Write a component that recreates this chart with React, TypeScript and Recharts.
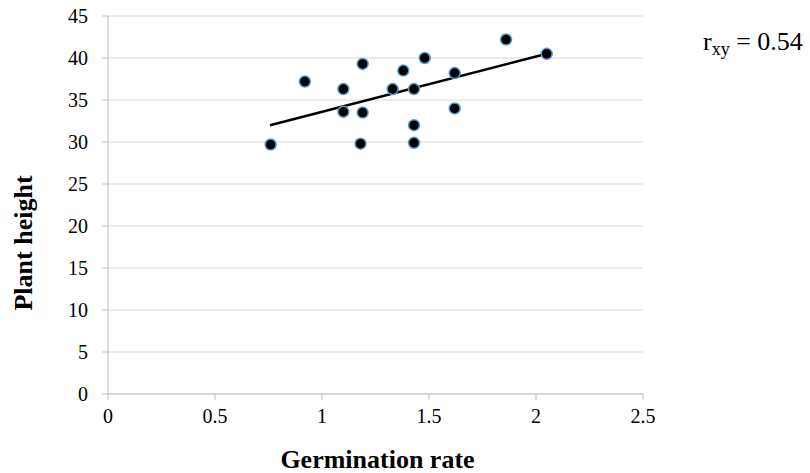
import React from 'react';
import { ScatterChart, Scatter, XAxis, YAxis, CartesianGrid, Label } from 'recharts';

const germination = [0.76, 0.92, 1.1, 1.1, 1.19, 1.19, 1.18, 1.33, 1.38, 1.43, 1.43, 1.43, 1.48, 1.62, 1.62, 1.86, 2.05];
const height = [29.7, 37.2, 36.3, 33.6, 39.3, 33.5, 29.8, 36.3, 38.5, 36.3, 32.0, 29.9, 40.0, 38.2, 34.0, 42.2, 40.5];
const trendX = [0.757, 2.05];
const trendY = [32.0, 40.5];
const xTicks = [0, 0.5, 1, 1.5, 2, 2.5];
const yTicks = [0, 5, 10, 15, 20, 25, 30, 35, 40, 45];

const points = germination.map((x, i) => ({ x, y: height[i] }));
const trend = trendX.map((x, i) => ({ x, y: trendY[i] }));

const font = '"Liberation Serif", "Times New Roman", serif';
const tickStyle = { fill: '#000', fontSize: 20, fontFamily: font };
const titleStyle = { fill: '#000', fontSize: 26, fontWeight: 'bold' as const, fontFamily: font };

const XTitle = (props: any) => {
  const vb = props.viewBox;
  return (
    <text x={vb.x + vb.width / 2 + 2} y={vb.y + 74} textAnchor="middle" style={titleStyle}>
      Germination rate
    </text>
  );
};

const YTitle = (props: any) => {
  const vb = props.viewBox;
  const x = vb.x - 36;
  const y = vb.y + vb.height / 2 + 38;
  return (
    <text x={x} y={y} textAnchor="middle" transform={`rotate(-90 ${x} ${y})`} style={titleStyle}>
      Plant height
    </text>
  );
};

export default function App() {
  return (
    <div style={{ position: 'absolute', left: 0, top: 0, width: 810, height: 473, background: '#fff' }}>
      <ScatterChart width={810} height={473} margin={{ top: 16, right: 167, bottom: 49, left: 68 }}>
        <CartesianGrid horizontal vertical={false} stroke="#d9d9d9" />
        <XAxis
          type="number"
          dataKey="x"
          domain={[0, 2.5]}
          ticks={xTicks}
          height={30}
          stroke="#bfbfbf"
          tickSize={6}
          tick={tickStyle}
          tickMargin={9}
          allowDataOverflow
        >
          <Label content={XTitle} />
        </XAxis>
        <YAxis
          type="number"
          dataKey="y"
          domain={[0, 45]}
          ticks={yTicks}
          width={40}
          stroke="#bfbfbf"
          tickSize={6}
          tick={tickStyle}
          tickMargin={14}
          allowDataOverflow
        >
          <Label content={YTitle} />
        </YAxis>
        <Scatter
          data={trend}
          line={{ stroke: '#000', strokeWidth: 2.5 }}
          shape={() => null}
          isAnimationActive={false}
        />
        <Scatter
          data={points}
          fill="#000"
          stroke="#5b9bd5"
          shape={(p: any) => <circle cx={p.cx} cy={p.cy} r={5.5} fill="#000" stroke="#5b9bd5" strokeWidth={1.5} />}
          isAnimationActive={false}
        />
      </ScatterChart>
      <svg width={810} height={473} style={{ position: 'absolute', left: 0, top: 0, pointerEvents: 'none' }}>
        <text x={703} y={50} style={{ fontFamily: font, fontSize: 26, fill: '#000' }}>
          r<tspan dy={5} fontSize={18}>xy</tspan><tspan dy={-5}> = 0.54</tspan>
        </text>
      </svg>
    </div>
  );
}
